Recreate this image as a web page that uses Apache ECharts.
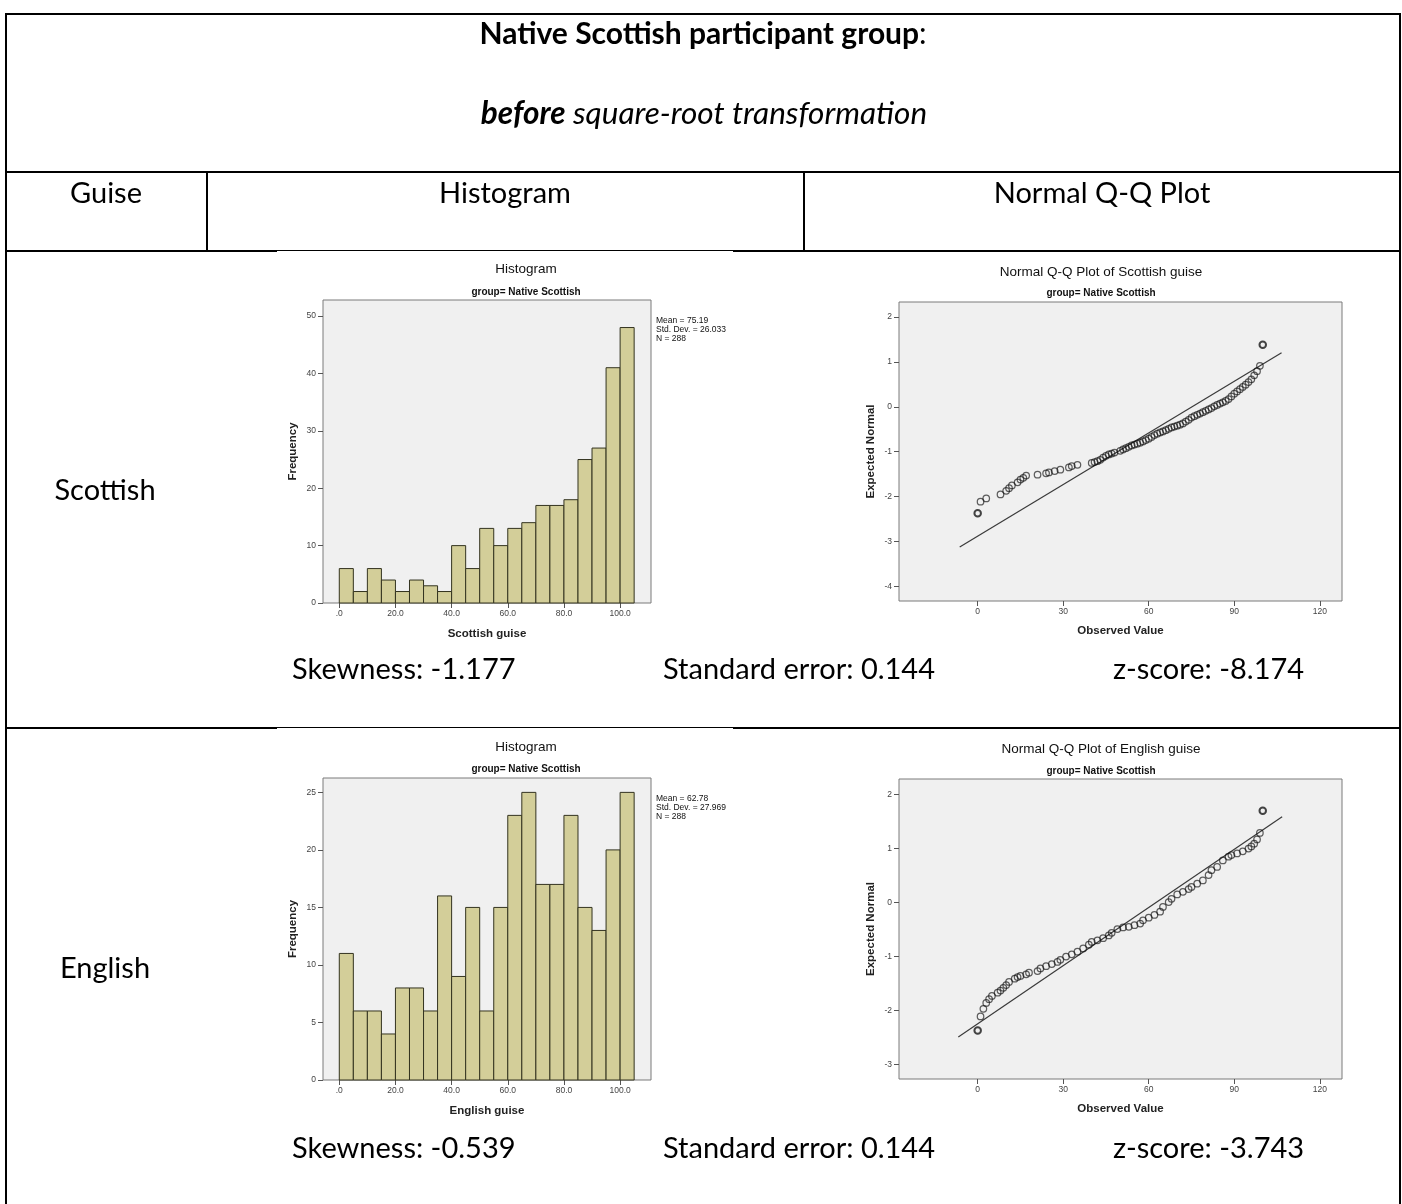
<!DOCTYPE html>
<html>
<head>
<meta charset="utf-8">
<title>Native Scottish participant group</title>
<script src="https://cdn.jsdelivr.net/npm/echarts@6/dist/echarts.min.js"></script>
<style>
  html, body { margin: 0; padding: 0; background: #ffffff; }
  #chart { width: 1402px; height: 1204px; }
</style>
</head>
<body>
<div id="chart"></div>
<script>
// ---- data ----
const binLower = [0, 5, 10, 15, 20, 25, 30, 35, 40, 45, 50, 55, 60, 65, 70, 75, 80, 85, 90, 95, 100];
const binWidth = 5;
const scottishFreq = [6, 2, 6, 4, 2, 4, 3, 2, 10, 6, 13, 10, 13, 14, 17, 17, 18, 25, 27, 41, 48];
const englishFreq = [11, 6, 6, 4, 8, 8, 6, 16, 9, 15, 6, 15, 23, 25, 17, 17, 23, 15, 13, 20, 25];

const scottishStats = ['Mean = 75.19', 'Std. Dev. = 26.033', 'N = 288'];
const englishStats = ['Mean = 62.78', 'Std. Dev. = 27.969', 'N = 288'];

const histXTicks = [0, 20, 40, 60, 80, 100];
const scottishFreqTicks = [0, 10, 20, 30, 40, 50];
const englishFreqTicks = [0, 5, 10, 15, 20, 25];
const qqXTicks = [0, 30, 60, 90, 120];
const scottishQQYTicks = [-4, -3, -2, -1, 0, 1, 2];
const englishQQYTicks = [-3, -2, -1, 0, 1, 2];

// Q-Q points: observed value / expected normal
const qqScottishObs = [0, 1, 3, 8, 10, 11, 12, 14, 15, 16, 17, 21, 24, 25, 27, 29, 32, 33, 35, 40, 41, 42, 43, 44, 45, 46, 47, 48, 50, 51, 52, 53, 54, 55, 56, 57, 58, 59, 60, 61, 62, 63, 64, 65, 66, 67, 68, 69, 70, 71, 72, 73, 74, 75, 76, 77, 78, 79, 80, 81, 82, 83, 84, 85, 86, 87, 88, 89, 90, 91, 92, 93, 94, 95, 96, 97, 98, 99, 100];
const qqScottishExp = [-2.37, -2.11, -2.04, -1.95, -1.87, -1.81, -1.75, -1.68, -1.62, -1.58, -1.53, -1.51, -1.48, -1.46, -1.43, -1.40, -1.35, -1.32, -1.29, -1.25, -1.23, -1.21, -1.18, -1.13, -1.09, -1.06, -1.04, -1.02, -0.98, -0.95, -0.92, -0.89, -0.86, -0.84, -0.82, -0.80, -0.77, -0.74, -0.71, -0.67, -0.63, -0.60, -0.57, -0.55, -0.52, -0.49, -0.46, -0.44, -0.42, -0.40, -0.37, -0.33, -0.29, -0.24, -0.21, -0.18, -0.15, -0.12, -0.09, -0.06, -0.03, 0.01, 0.04, 0.07, 0.10, 0.13, 0.17, 0.23, 0.29, 0.34, 0.39, 0.44, 0.49, 0.55, 0.61, 0.70, 0.79, 0.91, 1.38];

const qqEnglishObs = [0, 1, 2, 3, 4, 5, 7, 8, 9, 10, 11, 13, 14, 15, 17, 18, 21, 22, 24, 26, 28, 29, 31, 33, 35, 37, 39, 40, 42, 44, 46, 47, 49, 51, 53, 55, 57, 58, 60, 62, 64, 65, 67, 68, 70, 72, 74, 75, 77, 79, 81, 82, 84, 86, 88, 89, 91, 93, 95, 96, 97, 98, 99, 100];
const qqEnglishExp = [-2.37, -2.11, -1.97, -1.86, -1.79, -1.73, -1.67, -1.63, -1.58, -1.53, -1.47, -1.41, -1.38, -1.36, -1.33, -1.30, -1.27, -1.22, -1.18, -1.14, -1.10, -1.06, -1.00, -0.96, -0.91, -0.85, -0.78, -0.73, -0.70, -0.66, -0.61, -0.56, -0.49, -0.46, -0.45, -0.42, -0.39, -0.33, -0.28, -0.23, -0.17, -0.08, 0.01, 0.07, 0.15, 0.20, 0.25, 0.29, 0.35, 0.41, 0.51, 0.60, 0.66, 0.78, 0.85, 0.88, 0.91, 0.95, 1.00, 1.04, 1.09, 1.17, 1.29, 1.70];

// heavily tied values (drawn with a heavier outline)
const qqTiedObs = [0, 100];

// fitted normal reference lines (end points)
const scottishRefLine = [[-6.3, -3.12], [106.6, 1.20]];
const englishRefLine = [[-6.8, -2.49], [106.8, 1.59]];

// ---- styling helpers ----
const SPSS_FONT = '"Liberation Sans", Arial, sans-serif';
const DOC_FONT = 'Lato, "Open Sans", sans-serif';
const PLOT_BG = '#f0f0f0';
const FRAME = '#7a7a7a';
const BAR_FILL = '#d3ce99';

function histSeriesData(freq) {
  return binLower.map((b, i) => [b, b + binWidth, freq[i]]);
}

function qqSeriesData(obs, exp) {
  return obs.map((x, i) => {
    const tied = qqTiedObs.indexOf(x) >= 0;
    return {
      value: [x, exp[i]],
      itemStyle: tied
        ? { color: 'rgba(0,0,0,0)', borderColor: 'rgba(10,10,10,0.95)', borderWidth: 2 }
        : { color: 'rgba(0,0,0,0)', borderColor: 'rgba(15,15,15,0.82)', borderWidth: 1.25 }
    };
  });
}

function histRender(params, api) {
  const p0 = api.coord([api.value(0), api.value(2)]);
  const p1 = api.coord([api.value(1), 0]);
  return {
    type: 'rect',
    shape: { x: p0[0], y: p0[1], width: p1[0] - p0[0], height: p1[1] - p0[1] },
    style: { fill: BAR_FILL, stroke: '#33331f', lineWidth: 1 }
  };
}

function tickLabel(size) {
  return { fontFamily: SPSS_FONT, fontSize: size, color: '#444' };
}

function valueAxis(gridIndex, min, max, ticks, opts) {
  return Object.assign({
    gridIndex: gridIndex,
    type: 'value',
    min: min,
    max: max,
    axisLine: { show: false, onZero: false },
    splitLine: { show: false },
    axisTick: { show: true, customValues: ticks, length: 5, lineStyle: { color: '#555', width: 1 } },
    axisLabel: Object.assign({ customValues: ticks, margin: 7 }, tickLabel(8.5)),
    nameLocation: 'middle',
    nameTextStyle: { fontFamily: SPSS_FONT, fontSize: 11.5, fontWeight: 'bold', color: '#222' }
  }, opts || {});
}

const histFmt = v => (v === 0 ? '.0' : v.toFixed(1));

// ---- table text & rules ----
const gfx = [];
function hline(x1, x2, y, w) {
  gfx.push({ type: 'line', shape: { x1: x1, y1: y, x2: x2, y2: y }, style: { stroke: '#000', lineWidth: w }, silent: true });
}
function vline(x, y1, y2, w) {
  gfx.push({ type: 'line', shape: { x1: x, y1: y1, x2: x, y2: y2 }, style: { stroke: '#000', lineWidth: w }, silent: true });
}
function docText(text, x, y, align, extra) {
  gfx.push({
    type: 'text', x: x, y: y, silent: true,
    style: Object.assign({ text: text, fill: '#000', font: '29px ' + DOC_FONT, textAlign: align, textVerticalAlign: 'middle' }, extra || {})
  });
}
function chartText(text, x, y, font, align) {
  gfx.push({
    type: 'text', x: x, y: y, silent: true,
    style: { text: text, fill: '#111', font: font, textAlign: align || 'center', textVerticalAlign: 'middle' }
  });
}

// outer frame and row rules
hline(5, 1401, 14, 2);
vline(6, 13, 1204, 2);
vline(1400, 13, 1204, 2);
hline(5, 1401, 172, 2);
hline(5, 277, 251, 2);
hline(277, 733, 250.5, 1);
hline(733, 1401, 251, 2);
hline(5, 277, 728, 2);
hline(277, 733, 727.5, 1);
hline(733, 1401, 728, 2);
vline(207, 172, 251, 2);
vline(804, 172, 251, 2);

gfx.push({
  type: 'text', x: 703, y: 34, silent: true,
  style: {
    text: '{b|Native Scottish participant group}{r|:}',
    textAlign: 'center', textVerticalAlign: 'middle',
    rich: {
      b: { font: 'bold 30px ' + DOC_FONT, fill: '#000' },
      r: { font: '30px ' + DOC_FONT, fill: '#000' }
    }
  }
});
gfx.push({
  type: 'text', x: 704, y: 114, silent: true,
  style: {
    text: '{b|before}{r| square-root transformation}',
    textAlign: 'center', textVerticalAlign: 'middle',
    rich: {
      b: { font: 'italic bold 31.5px ' + DOC_FONT, fill: '#000' },
      r: { font: 'italic 31.5px ' + DOC_FONT, fill: '#000' }
    }
  }
});
docText('Guise', 106, 194, 'center');
docText('Histogram', 505, 194, 'center');
docText('Normal Q-Q Plot', 1102, 194, 'center');
docText('Scottish', 105, 491, 'center');
docText('English', 105, 969, 'center');
docText('Skewness: -1.177', 292, 670, 'left');
docText('Standard error: 0.144', 663, 670, 'left');
docText('z-score: -8.174', 1113, 670, 'left');
docText('Skewness: -0.539', 292, 1149, 'left');
docText('Standard error: 0.144', 663, 1149, 'left');
docText('z-score: -3.743', 1113, 1149, 'left');

// chart titles
chartText('Histogram', 526, 269, '13.5px ' + SPSS_FONT);
chartText('group= Native Scottish', 526, 292, 'bold 10px ' + SPSS_FONT);
chartText('Histogram', 526, 747, '13.5px ' + SPSS_FONT);
chartText('group= Native Scottish', 526, 769, 'bold 10px ' + SPSS_FONT);
chartText('Normal Q-Q Plot of Scottish guise', 1101, 272, '13.5px ' + SPSS_FONT);
chartText('group= Native Scottish', 1101, 293, 'bold 10px ' + SPSS_FONT);
chartText('Normal Q-Q Plot of English guise', 1101, 749, '13.5px ' + SPSS_FONT);
chartText('group= Native Scottish', 1101, 771, 'bold 10px ' + SPSS_FONT);

// descriptive statistics beside the histograms
scottishStats.forEach((t, i) => chartText(t, 656, 321 + i * 9, '8.5px ' + SPSS_FONT, 'left'));
englishStats.forEach((t, i) => chartText(t, 656, 799 + i * 9, '8.5px ' + SPSS_FONT, 'left'));

// ---- chart option ----
const gridBase = { show: true, backgroundColor: PLOT_BG, borderColor: FRAME, borderWidth: 1, containLabel: false };

const option = {
  animation: false,
  backgroundColor: '#ffffff',
  grid: [
    Object.assign({ left: 323, top: 300, width: 328, height: 303 }, gridBase),
    Object.assign({ left: 323, top: 778, width: 328, height: 302 }, gridBase),
    Object.assign({ left: 899, top: 302, width: 443, height: 299 }, gridBase),
    Object.assign({ left: 899, top: 779, width: 443, height: 300 }, gridBase)
  ],
  xAxis: [
    valueAxis(0, -5.8, 111, histXTicks, { name: 'Scottish guise', nameGap: 25, axisLabel: Object.assign({ customValues: histXTicks, margin: 6, formatter: histFmt }, tickLabel(8.5)) }),
    valueAxis(1, -5.8, 111, histXTicks, { name: 'English guise', nameGap: 25, axisLabel: Object.assign({ customValues: histXTicks, margin: 6, formatter: histFmt }, tickLabel(8.5)) }),
    valueAxis(2, -27.6, 127.8, qqXTicks, { name: 'Observed Value', nameGap: 24, axisLabel: Object.assign({ customValues: qqXTicks, margin: 6 }, tickLabel(8.5)) }),
    valueAxis(3, -27.6, 127.8, qqXTicks, { name: 'Observed Value', nameGap: 24, axisLabel: Object.assign({ customValues: qqXTicks, margin: 6 }, tickLabel(8.5)) })
  ],
  yAxis: [
    valueAxis(0, 0, 52.8, scottishFreqTicks, { name: 'Frequency', nameGap: 24 }),
    valueAxis(1, 0, 26.25, englishFreqTicks, { name: 'Frequency', nameGap: 24 }),
    valueAxis(2, -4.32, 2.33, scottishQQYTicks, { name: 'Expected Normal', nameGap: 22 }),
    valueAxis(3, -3.27, 2.29, englishQQYTicks, { name: 'Expected Normal', nameGap: 22 })
  ],
  series: [
    { type: 'custom', xAxisIndex: 0, yAxisIndex: 0, renderItem: histRender, encode: { x: [0, 1], y: 2 }, data: histSeriesData(scottishFreq), silent: true },
    { type: 'custom', xAxisIndex: 1, yAxisIndex: 1, renderItem: histRender, encode: { x: [0, 1], y: 2 }, data: histSeriesData(englishFreq), silent: true },
    { type: 'line', xAxisIndex: 2, yAxisIndex: 2, data: scottishRefLine, symbol: 'none', lineStyle: { color: '#3a3a3a', width: 1.2 }, silent: true, z: 2 },
    { type: 'scatter', xAxisIndex: 2, yAxisIndex: 2, data: qqSeriesData(qqScottishObs, qqScottishExp), symbol: 'circle', symbolSize: 6.5, silent: true, z: 3 },
    { type: 'line', xAxisIndex: 3, yAxisIndex: 3, data: englishRefLine, symbol: 'none', lineStyle: { color: '#3a3a3a', width: 1.2 }, silent: true, z: 2 },
    { type: 'scatter', xAxisIndex: 3, yAxisIndex: 3, data: qqSeriesData(qqEnglishObs, qqEnglishExp), symbol: 'circle', symbolSize: 6.5, silent: true, z: 3 }
  ],
  graphic: gfx
};

const chart = echarts.init(document.getElementById('chart'), null, { renderer: 'canvas' });
chart.setOption(option);
</script>
</body>
</html>
